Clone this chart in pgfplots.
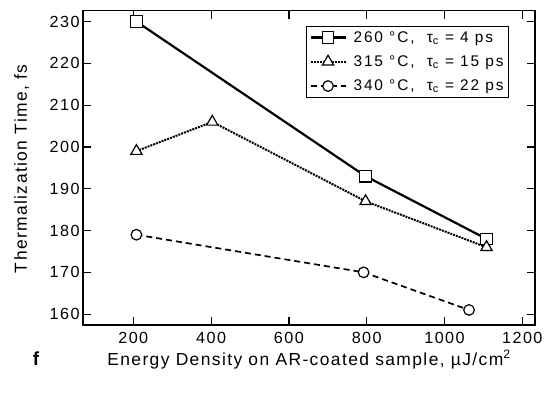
\documentclass[border=0pt]{standalone}
\usepackage{fontspec}
\setmainfont{Liberation Sans}
\newfontfamily\tickfont[LetterSpace=9]{Liberation Sans}
\newfontfamily\labfont[LetterSpace=8]{Liberation Sans}
\newfontfamily\legfont[LetterSpace=12]{Liberation Sans}
\usepackage{pgfplots}
\pgfplotsset{compat=1.18}
\begin{document}
\begin{tikzpicture}[x=1bp,y=1bp]
\path[use as bounding box] (0,0) rectangle (551,392);
\begin{axis}[
  at={(83bp,67bp)}, anchor=south west,
  scale only axis, width=452bp, height=314.3bp,
  xmin=70.7, xmax=1232.6, ymin=157.4, ymax=232.6,
  xtick={200,400,...,1200}, ytick={160,170,...,230},
  tick align=inside, tick pos=both, major tick length=8bp,
  axis line style={line width=1.6bp},
  every tick/.style={line width=1.2bp, black},
  /pgf/number format/assume math mode=true,
  /pgf/number format/1000 sep={},
  tick label style={font=\fontsize{16.2}{18}\tickfont},
  xticklabel style={yshift=-4bp},
  xlabel={Energy Density on AR-coated sample, \textmu J/cm\textsuperscript{2}},
  ylabel={Thermalization Time, fs},
  xlabel style={at={(axis description cs:0.5,-0.1274)}, anchor=base, font=\fontsize{17.5}{20}\labfont},
  ylabel style={at={(axis description cs:-0.1239,0.497)}, anchor=base, font=\fontsize{17.5}{20}\labfont},
  legend style={at={(axis description cs:0.493,0.952)}, anchor=north west, draw=black, line width=1.2bp,
    font=\fontsize{15.5}{17}\legfont, row sep=8bp, column sep=5bp, inner sep=3bp},
  legend cell align=left,
  legend image code/.code={\draw[mark repeat=2,mark phase=2,#1] plot coordinates {(0bp,0bp) (17.5bp,0bp) (35bp,0bp)};},
]
\addplot[black, line width=2.2bp, mark=square*, mark size=5.8bp, mark options={fill=white, solid, line width=1.2bp}]
  coordinates {(208,230) (797,193) (1108,178)};
\addlegendentry{260 °C,\ \ τ\textsubscript{c} = 4 ps}
\addplot[black, line width=2bp, densely dotted, mark=triangle*, mark size=6.5bp, mark options={fill=white, solid, line width=1.2bp}]
  coordinates {(208,199) (403,206) (797,187) (1108,176)};
\addlegendentry{315 °C,\ \ τ\textsubscript{c} = 15 ps}
\addplot[black, line width=1.7bp, dash pattern=on 6bp off 4bp, mark=*, mark size=5.3bp, mark options={fill=white, solid, line width=1.2bp}]
  coordinates {(208,179) (792,170) (1063,161)};
\addlegendentry{340 °C,\ \ τ\textsubscript{c} = 22 ps}
\end{axis}
\node[anchor=base] at (36,27) {\fontsize{19}{21}\selectfont\bfseries f};
\end{tikzpicture}
\end{document}
